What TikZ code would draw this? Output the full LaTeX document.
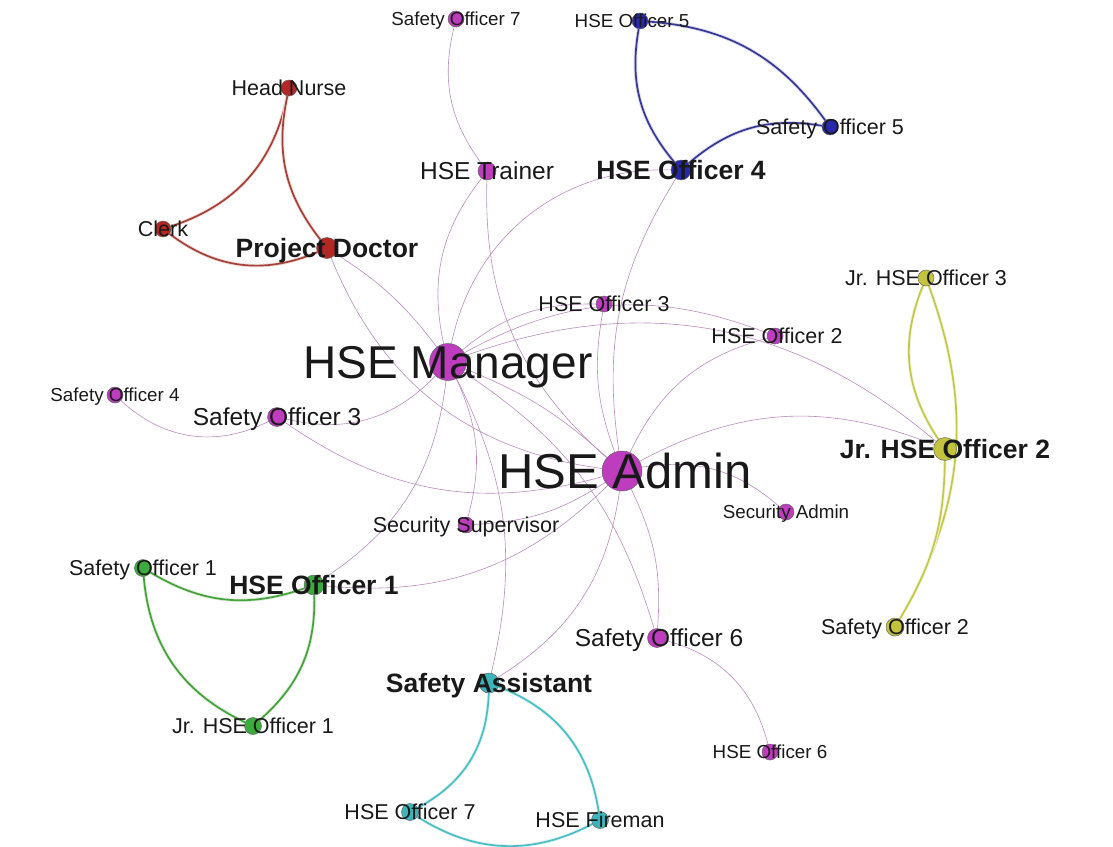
\documentclass[tikz,border=0pt]{standalone}
\usepackage{fontspec}
\setmainfont{Liberation Sans}
\usetikzlibrary{backgrounds}

\definecolor{mag}{RGB}{190,60,190}
\definecolor{magline}{RGB}{185,140,190}
\definecolor{redn}{RGB}{180,40,35}
\definecolor{redl}{RGB}{165,65,55}
\definecolor{bluen}{RGB}{40,40,175}
\definecolor{bluel}{RGB}{55,55,150}
\definecolor{yeln}{RGB}{195,195,60}
\definecolor{yell}{RGB}{195,200,75}
\definecolor{grnn}{RGB}{60,170,60}
\definecolor{grnl}{RGB}{70,160,60}
\definecolor{tealn}{RGB}{60,180,185}
\definecolor{teall}{RGB}{75,190,195}

\begin{document}
\begin{tikzpicture}[x=1pt, y=-1pt,
    person/.style={circle, draw=black!60, line width=0.5pt, inner sep=0pt, minimum size=#1},
    person/.default=16pt,
    link/.style={draw=magline, line width=0.6pt},
    tie/.style={draw=#1, line width=1.7pt, preaction={draw=#1!18, line width=3.5pt}},
    lbl/.style={inner sep=0pt, text depth=0pt, text=black!90},
    lblS/.style={lbl, text height=13.5pt, font=\fontsize{18.8}{20}\selectfont},
    lblM/.style={lbl, text height=15.5pt, font=\fontsize{21.5}{23}\selectfont},
    lblL/.style={lbl, text height=17.6pt, font=\fontsize{24.5}{26}\selectfont},
    lblB/.style={lbl, text height=19.1pt, font=\fontsize{26.5}{28}\selectfont\bfseries},
    lblH/.style={lbl, text height=0.72*#1, font=\fontsize{#1}{#1}\selectfont},
]
\useasboundingbox (0,0) rectangle (1113,846);

% People
\node[person=37pt, fill=mag] (mgr) at (448,362) {};
\node[person=40pt, fill=mag] (adm) at (622,471) {};
\node[person, fill=mag] (so7) at (456,19) {};
\node[person=18pt, fill=mag] (trainer) at (487,171) {};
\node[person, fill=mag] (ho3) at (604,304) {};
\node[person, fill=mag] (ho2) at (775,336) {};
\node[person, fill=mag] (so4) at (115,395) {};
\node[person=19pt, fill=mag] (so3) at (277,417) {};
\node[person, fill=mag] (sadm) at (786,512) {};
\node[person, fill=mag] (ssup) at (466,525) {};
\node[person=19pt, fill=mag] (so6) at (657,638) {};
\node[person, fill=mag] (ho6) at (770,752) {};

\node[person, fill=redn] (hn) at (289,88) {};
\node[person, fill=redn] (clerk) at (163,229) {};
\node[person=21pt, fill=redn] (pd) at (327,248) {};

\node[person, fill=bluen] (ho5) at (640,21) {};
\node[person, fill=bluen] (so5) at (830,127) {};
\node[person=20pt, fill=bluen] (ho4) at (681,170) {};

\node[person, fill=yeln] (jho3) at (926,278) {};
\node[person=23pt, fill=yeln] (jho2) at (945,449) {};
\node[person=18pt, fill=yeln] (so2) at (895,627) {};

\node[person=17pt, fill=grnn] (so1) at (143,568) {};
\node[person=20pt, fill=grnn] (ho1) at (314,585) {};
\node[person=17pt, fill=grnn] (jho1) at (253,726) {};

\node[person=20pt, fill=tealn] (sa) at (489,683) {};
\node[person=17pt, fill=tealn] (ho7) at (410,812) {};
\node[person=17pt, fill=tealn] (hf) at (600,820) {};

% Links
\begin{scope}[on background layer]
\draw[link] (so7) to[bend right=25] (trainer);
\draw[link] (trainer) to[bend right=25] (mgr);
\draw[link] (trainer) to[bend right=25] (adm);
\draw[link] (ho4) to[bend right=40] (mgr);
\draw[link] (ho4) to[bend right=20] (adm);
\draw[link] (ho3) to[bend right=20] (mgr);
\draw[link] (ho3) to[bend right=15] (adm);
\draw[link] (mgr) to[bend left=25] (ho2);
\draw[link] (mgr) to[bend left=30] (jho2);
\draw[link] (ho2) to[bend right=25] (adm);
\draw[link] (adm) to[bend left=25] (jho2);
\draw[link] (so4) to[bend right=35] (so3);
\draw[link] (so3) to[bend right=30] (mgr);
\draw[link] (so3) to[bend right=25] (adm);
\draw[link] (mgr) to[bend left=10] (adm);
\draw[link] (pd) to[bend left=10] (mgr);
\draw[link] (pd) to[bend right=30] (adm);
\draw[link] (ssup) to[bend right=20] (mgr);
\draw[link] (ssup) to[bend right=15] (adm);
\draw[link] (ho1) to[bend right=25] (mgr);
\draw[link] (ho1) to[bend right=25] (adm);
\draw[link] (sa) to[bend right=20] (mgr);
\draw[link] (sa) to[bend right=25] (adm);
\draw[link] (mgr) to[bend left=20] (so6);
\draw[link] (adm) to[bend left=15] (so6);
\draw[link] (so6) to[bend left=30] (ho6);
\draw[link] (adm) to[bend left=25] (sadm);

\draw[tie=redl] (hn) to[bend left=30] (clerk);
\draw[tie=redl] (hn) to[bend right=25] (pd);
\draw[tie=redl] (clerk) to[bend right=30] (pd);

\draw[tie=bluel] (ho5) to[bend right=25] (ho4);
\draw[tie=bluel] (ho5) to[bend left=25] (so5);
\draw[tie=bluel] (ho4) to[bend left=25] (so5);

\draw[tie=yell] (jho3) to[bend right=28] (jho2);
\draw[tie=yell] (jho3) to[bend left=25] (so2);
\draw[tie=yell] (jho2) to[bend left=15] (so2);

\draw[tie=grnl] (so1) to[bend right=25] (ho1);
\draw[tie=grnl] (so1) to[bend right=30] (jho1);
\draw[tie=grnl] (ho1) to[bend left=25] (jho1);

\draw[tie=teall] (sa) to[bend left=30] (ho7);
\draw[tie=teall] (ho7) to[bend right=30] (hf);
\draw[tie=teall] (sa) to[bend left=30] (hf);
\end{scope}

% Labels
\node[lblH=46pt] (mgr-t) at (mgr) {HSE Manager};
\node[lblH=49pt] (adm-t) at ([xshift=3pt]adm) {HSE Admin};
\node[lblS] (so7-t) at (so7) {Safety Officer 7};
\node[lblL] (trainer-t) at (trainer) {HSE Trainer};
\node[lblM] (ho3-t) at (ho3) {HSE Officer 3};
\node[lblM] (ho2-t) at ([xshift=2pt]ho2) {HSE Officer 2};
\node[lblS] (so4-t) at (so4) {Safety Officer 4};
\node[lblL] (so3-t) at (so3) {Safety Officer 3};
\node[lblS] (sadm-t) at (sadm) {Security Admin};
\node[lblM] (ssup-t) at (ssup) {Security Supervisor};
\node[lblL] (so6-t) at ([xshift=2pt]so6) {Safety Officer 6};
\node[lblS] (ho6-t) at (ho6) {HSE Officer 6};
\node[lblM] (hn-t) at (hn) {Head Nurse};
\node[lblM] (clerk-t) at (clerk) {Clerk};
\node[lblB] (pd-t) at (pd) {Project Doctor};
\node[lblS] (ho5-t) at ([xshift=-8pt]ho5) {HSE Officer 5};
\node[lblM] (so5-t) at (so5) {Safety Officer 5};
\node[lblB] (ho4-t) at (ho4) {HSE Officer 4};
\node[lblM] (jho3-t) at (jho3) {Jr. HSE Officer 3};
\node[lblB] (jho2-t) at (jho2) {Jr. HSE Officer 2};
\node[lblM] (so2-t) at (so2) {Safety Officer 2};
\node[lblM] (so1-t) at (so1) {Safety Officer 1};
\node[lblB] (ho1-t) at (ho1) {HSE Officer 1};
\node[lblM] (jho1-t) at (jho1) {Jr. HSE Officer 1};
\node[lblB] (sa-t) at (sa) {Safety Assistant};
\node[lblM] (ho7-t) at (ho7) {HSE Officer 7};
\node[lblM] (hf-t) at (hf) {HSE Fireman};

\end{tikzpicture}
\end{document}
